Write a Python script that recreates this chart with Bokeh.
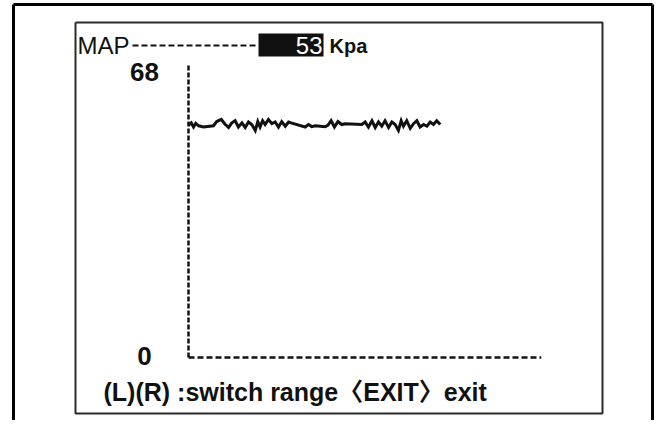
from bokeh.plotting import figure
from bokeh.models import Range1d
from bokeh.core.properties import value
from bokeh.embed import file_html
from bokeh.resources import INLINE

# ---------------- data ----------------
time_idx = [0.0, 1.1, 2.0, 2.9, 4.0, 6.0, 9.9, 11.2, 13.0, 14.6, 15.9, 17.2, 18.5, 19.8,
            21.2, 22.5, 23.8, 25.1, 26.5, 27.5, 28.4, 29.4, 30.4, 31.7, 33.1, 34.4, 35.7,
            37.0, 38.4, 39.7, 40.7, 46.3, 47.6, 48.9, 50.3, 54.2, 55.3, 56.6, 57.9, 59.3,
            60.8, 62.2, 68.8, 70.1, 71.4, 72.8, 74.1, 75.4, 76.7, 78.0, 79.4, 80.7, 82.0,
            83.3, 84.4, 85.3, 86.6, 88.0, 89.3, 90.6, 91.9, 93.3, 94.6, 95.9, 97.2, 98.5, 99.9]
map_kpa = [55.0, 55.6, 54.6, 55.5, 54.9, 54.6, 54.9, 55.9, 56.4, 55.2, 54.5, 55.6, 56.1, 54.6,
           55.6, 54.5, 55.8, 55.2, 53.8, 55.9, 54.6, 56.1, 55.2, 56.4, 55.4, 55.8, 54.6,
           55.9, 54.8, 55.8, 55.6, 54.6, 55.2, 54.7, 54.9, 54.7, 55.0, 56.1, 54.6, 55.9,
           55.2, 55.4, 55.2, 55.8, 54.6, 56.1, 54.5, 55.8, 54.8, 56.1, 54.5, 55.8, 55.2,
           53.8, 56.1, 54.8, 56.1, 54.3, 55.4, 56.1, 54.6, 55.2, 54.8, 55.8, 55.2, 56.1, 55.2]
current_value = "53"
unit_label = "Kpa"
param_name = "MAP"
y_min, y_max = 0, 68
y_tick_labels = ["0", "68"]
x_axis_end = 140
footer_text = "(L)(R) :switch range\u3008EXIT\u3009exit"

# ---------------- layout (canvas pixels) ----------------
W, H = 654, 420
X0_PX, PX_PER_T = 188.0, 2.52      # canvas x of t=0, px per time unit
Y0_PX, PX_PER_V = 357.0, 4.2206    # canvas y of value 0, px per kPa


def X(px):
    return (px - X0_PX) / PX_PER_T


def Y(py):
    return (Y0_PX - py) / PX_PER_V


FONT = value("Liberation Sans, Noto Sans CJK SC")
INK = "#111111"

p = figure(width=W, height=H,
           x_range=Range1d(X(0), X(W)), y_range=Range1d(Y(H), Y(0)),
           min_border=0, toolbar_location=None, output_backend="svg",
           x_axis_location=None, y_axis_location=None,
           outline_line_color=None, background_fill_color="white",
           border_fill_color="white")
p.xgrid.visible = False
p.ygrid.visible = False

# outer frame (thick)
p.multi_line(xs=[[X(13), X(13)], [X(13), X(652)], [X(652), X(652)]],
             ys=[[Y(H), Y(4)], [Y(4), Y(4)], [Y(4), Y(H)]],
             line_color="black", line_width=3)
# inner screen box
p.multi_line(xs=[[X(75), X(602), X(602), X(75), X(75)]],
             ys=[[Y(22), Y(22), Y(413), Y(413), Y(22)]],
             line_color="#2a2a2a", line_width=2)

# header
p.text(x=[X(77)], y=[Y(45)], text=[param_name], text_font=FONT,
       text_font_size="24px", text_align="left", text_baseline="middle", text_color=INK)
p.line(x=[X(132), X(258)], y=[Y(45), Y(45)], line_color=INK, line_width=2, line_dash="6 3")
p.quad(left=[X(258)], right=[X(323)], top=[Y(33)], bottom=[Y(56)], fill_color=INK,
       line_color=None)
p.text(x=[X(322)], y=[Y(45)], text=[current_value], text_font=FONT, text_font_size="24px",
       text_align="right", text_baseline="middle", text_color="white")
p.text(x=[X(329)], y=[Y(45)], text=[unit_label], text_font=FONT, text_font_size="20px",
       text_font_style="bold", text_align="left", text_baseline="middle", text_color=INK)

# axes (dashed)
p.line(x=[0, 0], y=[y_min, Y(63)], line_color=INK, line_width=2.5, line_dash="5 2")
p.line(x=[0, x_axis_end], y=[y_min, y_min], line_color=INK, line_width=2.5,
       line_dash="6 3")

# tick labels
p.text(x=[X(144)], y=[y_max], text=[y_tick_labels[1]], text_font=FONT, text_font_size="26px",
       text_font_style="bold", text_align="center", text_baseline="middle",
       y_offset=2, text_color=INK)
p.text(x=[X(144)], y=[y_min], text=[y_tick_labels[0]], text_font=FONT, text_font_size="26px",
       text_font_style="bold", text_align="center", text_baseline="middle",
       y_offset=-2, text_color=INK)

# data trace
p.line(x=time_idx, y=map_kpa, line_color=INK, line_width=3, line_join="miter")

# footer
p.text(x=[X(103)], y=[Y(391)], text=[footer_text], text_font=FONT, text_font_size="25px",
       text_font_style="bold", text_align="left", text_baseline="middle", text_color=INK)

open("out.html", "w").write(file_html(p, INLINE))
